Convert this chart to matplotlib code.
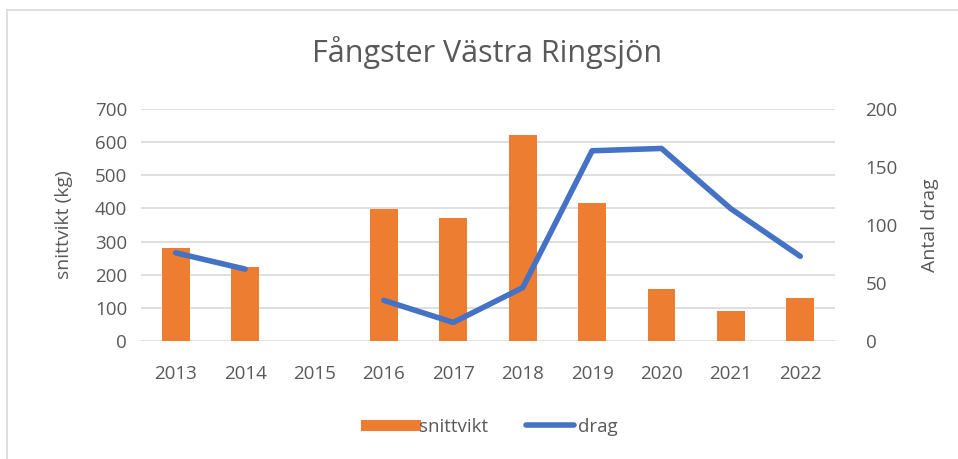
import numpy as np
import matplotlib.pyplot as plt
from matplotlib.lines import Line2D

plt.rcParams['font.family'] = ['Open Sans', 'DejaVu Sans']

# data
years = ['2013', '2014', '2015', '2016', '2017', '2018', '2019', '2020', '2021', '2022']
snittvikt = [281, 224, 0, 397, 370, 622, 416, 157, 91, 130]
drag = [76, 62, np.nan, 35, 16, 46, 164, 166, 114, 73]

orange = '#ED7D31'
blue = '#4472C4'
grey = '#595959'

fig = plt.figure(figsize=(9.58, 4.59), dpi=100)
ax = fig.add_axes([141/958, 1-341/459, (835-141)/958, (341-109)/459])
x = np.arange(len(years))
ax.bar(x, snittvikt, width=0.4, color=orange, zorder=2)
ax.set_ylim(0, 700)
ax.set_yticks(range(0, 701, 100))
ax.set_xlim(-0.5, len(years)-0.5)
ax.set_xticks(x)
ax.set_xticklabels(years)
ax.grid(axis='y', color='#D9D9D9', linewidth=1.2, zorder=0)
for s in ax.spines.values():
    s.set_visible(False)
ax.tick_params(length=0, labelsize=13.5, colors=grey, pad=10)
ax.tick_params(axis='x', pad=17)
ax.set_ylabel('snittvikt (kg)', fontsize=14, color=grey, labelpad=16)

ax2 = ax.twinx()
ax2.plot(x, drag, color=blue, linewidth=4, solid_capstyle='round', zorder=3)
ax2.set_ylim(0, 200)
ax2.set_yticks(range(0, 201, 50))
for s in ax2.spines.values():
    s.set_visible(False)
ax2.tick_params(length=0, labelsize=13.5, colors=grey, pad=22)
ax2.set_ylabel('Antal drag', fontsize=14, color=grey, labelpad=17)

fig.text(487/958, 1-53/459, 'Fångster Västra Ringsjön', ha='center', va='center',
         fontsize=22, color=grey)

handles = [Line2D([0], [0], color=orange, linewidth=8),
           Line2D([0], [0], color=blue, linewidth=4, solid_capstyle='round')]
fig.legend(handles, ['snittvikt', 'drag'], loc='center', bbox_to_anchor=(492/958, 1-427/459),
           ncol=2, frameon=False, fontsize=13.5, labelcolor=grey, handlelength=2.6,
           handletextpad=0.2, columnspacing=2.0)

# chart border (top and left visible)
fig.add_artist(Line2D([7/958, 7/958], [0, 1-10/459], color='#D9D9D9', linewidth=1.2))
fig.add_artist(Line2D([7/958, 1], [1-10/459, 1-10/459], color='#D9D9D9', linewidth=1.2))

fig.savefig('out.png', dpi=100)
